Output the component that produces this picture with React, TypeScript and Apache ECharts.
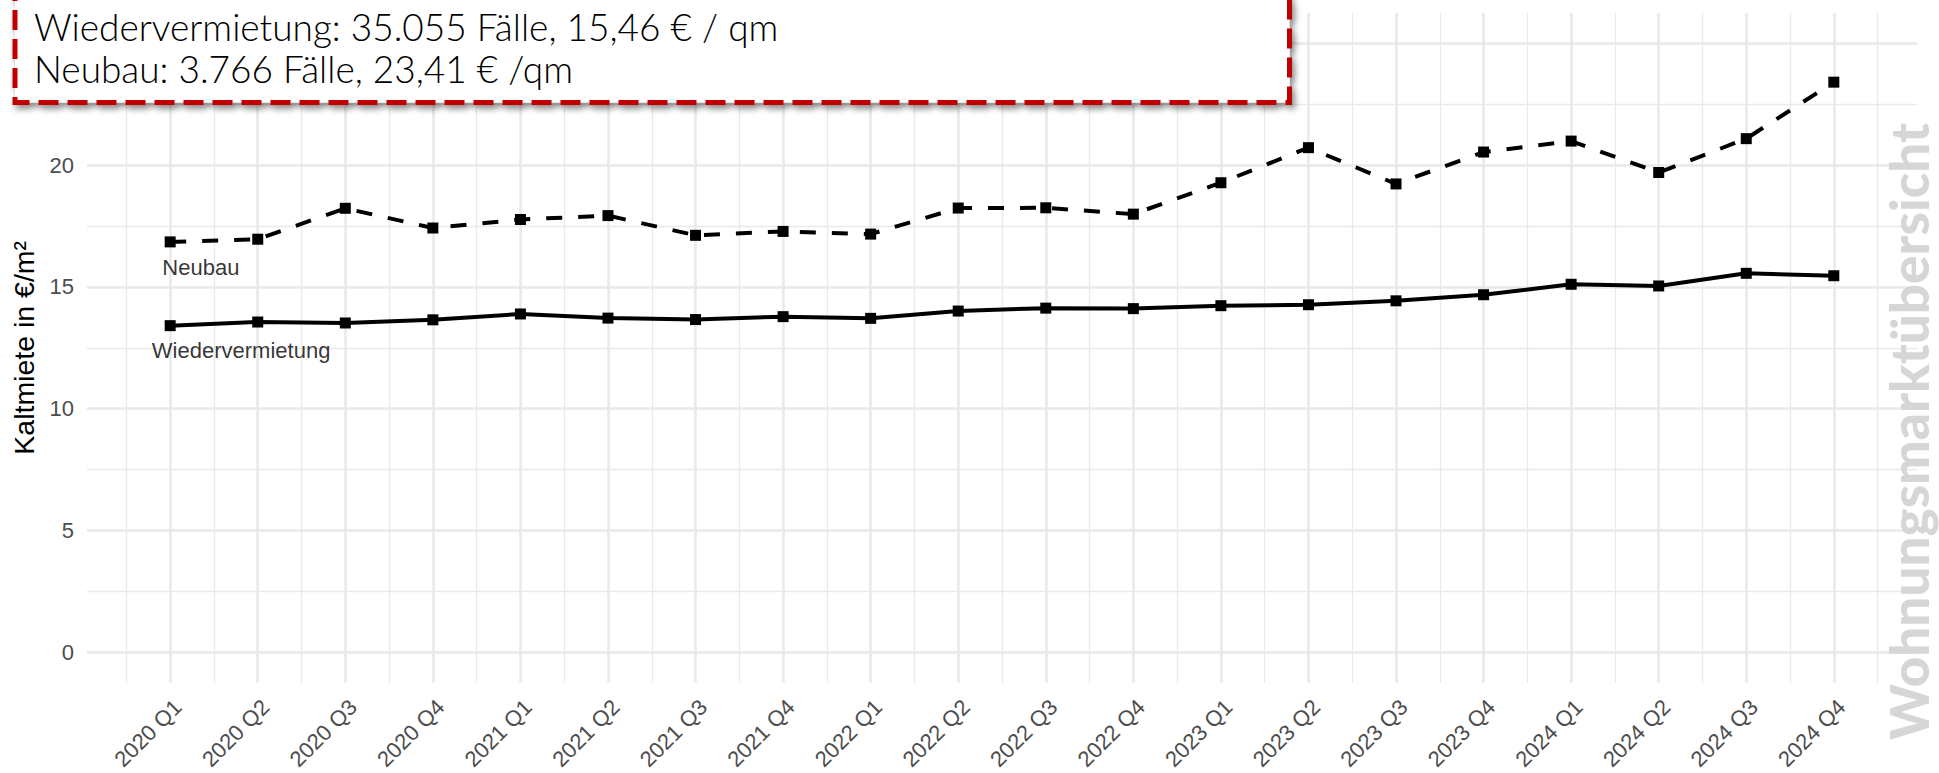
import React, { useEffect, useRef } from "react";
import * as echarts from "echarts";

const quarters = [
  "2020 Q1", "2020 Q2", "2020 Q3", "2020 Q4",
  "2021 Q1", "2021 Q2", "2021 Q3", "2021 Q4",
  "2022 Q1", "2022 Q2", "2022 Q3", "2022 Q4",
  "2023 Q1", "2023 Q2", "2023 Q3", "2023 Q4",
  "2024 Q1", "2024 Q2", "2024 Q3", "2024 Q4",
];

const neubau = [
  16.85, 16.96, 18.23, 17.42,
  17.77, 17.93, 17.12, 17.28,
  17.17, 18.24, 18.25, 17.99,
  19.28, 20.72, 19.23, 20.54,
  20.99, 19.7, 21.09, 23.41,
];

const wiedervermietung = [
  13.41, 13.56, 13.52, 13.65,
  13.89, 13.72, 13.66, 13.78,
  13.71, 14.01, 14.13, 14.11,
  14.23, 14.27, 14.43, 14.68,
  15.11, 15.04, 15.56, 15.46,
];

// Gridlines at every 5; label at 25 sits under the annotation box in the reference
const yTicks = [0, 5, 10, 15, 20, 25];
const yTickLabels = [0, 5, 10, 15, 20];
const yMinorTicks = [2.5, 7.5, 12.5, 17.5, 22.5];

const seriesLabelNames = ["Neubau", "Wiedervermietung"];
const seriesLabelX = [1.35, 1.81];
const seriesLabelY = [15.78, 12.4];

const annotationLines = [
  "Wiedervermietung: 35.055 Fälle, 15,46 € / qm",
  "Neubau: 3.766 Fälle, 23,41 € /qm",
];

const yAxisTitle = "Kaltmiete in €/m²";
const watermark = "Wohnungsmarktübersicht";

const GRID_COLOR = "#e9e9e9";
const TICK_COLOR = "#4d4d4d";
const SANS = "'Liberation Sans', Arial, sans-serif";

export default function App() {
  const ref = useRef<HTMLDivElement>(null);

  useEffect(() => {
    if (!ref.current) return;
    const chart = echarts.init(ref.current, undefined, { renderer: "svg" });

    const xMajor = quarters.map((_, i) => i + 1);
    const xMinor = quarters.map((_, i) => i + 0.5).concat([quarters.length + 0.5]);

    const xCommon = {
      type: "value" as const,
      min: 0.05,
      max: quarters.length + 0.95,
      axisLine: { show: false },
    };
    const yCommon = {
      type: "value" as const,
      min: -1.25,
      max: 26.25,
      axisLine: { show: false },
    };

    chart.setOption({
      animation: false,
      backgroundColor: "#ffffff",
      grid: { left: 87, right: 22, top: 13, bottom: 85, containLabel: false },
      xAxis: [
        {
          ...xCommon,
          axisTick: { show: false, customValues: xMajor },
          splitLine: { show: true, lineStyle: { color: GRID_COLOR, width: 2.5 } },
          axisLabel: {
            customValues: xMajor,
            formatter: (v: number) => quarters[Math.round(v) - 1] ?? "",
            rotate: 45,
            align: "right",
            verticalAlign: "top",
            margin: 13,
            color: TICK_COLOR,
            fontSize: 22,
            fontFamily: SANS,
          },
        },
        {
          ...xCommon,
          position: "bottom",
          axisTick: { show: false, customValues: xMinor },
          axisLabel: { show: false },
          splitLine: { show: true, lineStyle: { color: GRID_COLOR, width: 1.3 } },
        },
      ],
      yAxis: [
        {
          ...yCommon,
          axisTick: { show: false, customValues: yTicks },
          splitLine: { show: true, lineStyle: { color: GRID_COLOR, width: 2.5 } },
          axisLabel: {
            customValues: yTickLabels,
            margin: 13,
            color: TICK_COLOR,
            fontSize: 22,
            fontFamily: SANS,
          },
          name: yAxisTitle,
          nameLocation: "middle",
          nameGap: 46,
          nameTextStyle: { color: "#000", fontSize: 28.5, fontFamily: SANS },
        },
        {
          ...yCommon,
          position: "left",
          axisTick: { show: false, customValues: yMinorTicks },
          axisLabel: { show: false },
          splitLine: { show: true, lineStyle: { color: GRID_COLOR, width: 1.3 } },
        },
      ],
      series: [
        {
          name: "Neubau",
          type: "line",
          xAxisIndex: 0,
          yAxisIndex: 0,
          data: quarters.map((_, i) => [i + 1, neubau[i]]),
          symbol: "rect",
          symbolSize: 11,
          showAllSymbol: true,
          itemStyle: { color: "#000" },
          lineStyle: { color: "#000", width: 4, type: [16, 16] },
          z: 5,
        },
        {
          name: "Wiedervermietung",
          type: "line",
          xAxisIndex: 0,
          yAxisIndex: 0,
          data: quarters.map((_, i) => [i + 1, wiedervermietung[i]]),
          symbol: "rect",
          symbolSize: 11,
          showAllSymbol: true,
          itemStyle: { color: "#000" },
          lineStyle: { color: "#000", width: 4, type: "solid" },
          z: 5,
        },
        {
          name: "labels",
          type: "scatter",
          xAxisIndex: 0,
          yAxisIndex: 0,
          symbolSize: 1,
          itemStyle: { color: "rgba(0,0,0,0)" },
          silent: true,
          data: seriesLabelNames.map((n, i) => ({
            name: n,
            value: [seriesLabelX[i], seriesLabelY[i]],
          })),
          label: {
            show: true,
            position: "inside",
            formatter: "{b}",
            color: "#000",
            fontSize: 22,
            fontFamily: SANS,
          },
          z: 6,
        },
      ],
      graphic: [
        {
          type: "text",
          x: 1908,
          y: 431.5,
          rotation: Math.PI / 2,
          z: 50,
          silent: true,
          style: {
            text: watermark,
            fontSize: 53,
            fontWeight: 900,
            fontFamily: "Lato, 'Noto Sans', sans-serif",
            fill: "#d6d6d6",
            align: "center",
            verticalAlign: "middle",
            textAlign: "center",
            textVerticalAlign: "middle",
          },
        },
        {
          type: "rect",
          z: 100,
          silent: true,
          shape: { x: 15, y: -60, width: 1274.5, height: 162.5 },
          style: {
            fill: "#ffffff",
            stroke: "#c00000",
            lineWidth: 5,
            lineDash: [20, 9],
            shadowBlur: 6,
            shadowOffsetX: 3,
            shadowOffsetY: 4,
            shadowColor: "rgba(0,0,0,0.45)",
          },
        },
        ...annotationLines.map((t, i) => ({
          type: "text",
          x: 34,
          y: 26 + i * 42,
          z: 101,
          silent: true,
          style: {
            text: t,
            fontSize: 37,
            lineHeight: 38,
            fontWeight: 300,
            fontFamily: "Lato, 'Noto Sans', sans-serif",
            fill: "#000000",
            align: "left",
            verticalAlign: "middle",
            textAlign: "left",
            textVerticalAlign: "middle",
          },
        })),
      ],
    });

    return () => chart.dispose();
  }, []);

  return (
    <div
      ref={ref}
      style={{ position: "fixed", left: 0, top: 0, width: 1939, height: 773, background: "#fff" }}
    />
  );
}
